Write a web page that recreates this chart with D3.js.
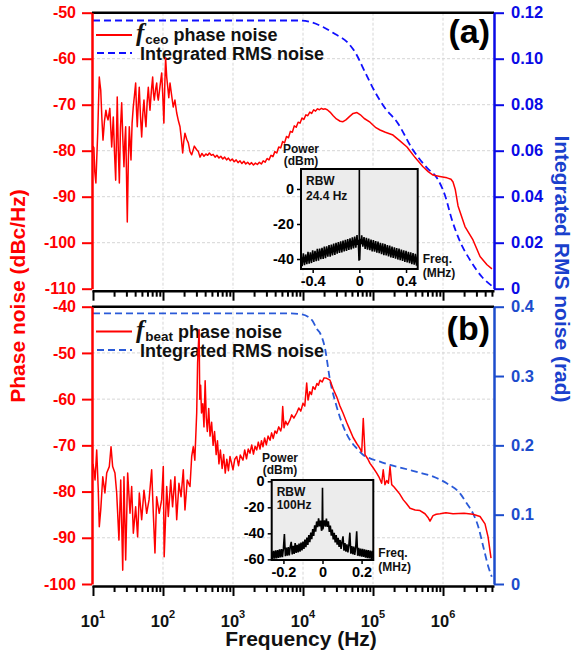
<!DOCTYPE html>
<html><head><meta charset="utf-8">
<script src="https://cdn.jsdelivr.net/npm/d3@7"></script>
<style>
html,body{margin:0;padding:0;background:#fff;}
svg{display:block;font-family:"Liberation Sans",Arial,sans-serif;font-weight:bold;}
</style></head><body>
<svg id="chart" width="573" height="656"></svg>
<script>
// ---------------- DATA ----------------
// Panel (a): f_ceo phase noise (dBc/Hz) vs Fourier frequency (Hz)
const freqA = [10.0,10.3,10.6,11.0,11.3,11.7,12.0,12.3,12.6,12.9,13.4,13.9,14.6,15.3,15.8,16.4,17.4,18.5,19.0,19.5,20.3,21.1,21.6,22.2,23.0,23.8,24.7,25.7,26.7,27.7,28.5,29.3,30.1,30.9,32.0,33.0,34.0,34.9,36.2,37.6,39.1,40.7,41.8,42.9,44.3,45.8,47.7,49.6,51.5,53.5,55.3,57.1,59.4,61.7,63.4,65.2,68.2,71.2,73.1,75.1,78.1,81.3,83.5,85.7,90.6,95.8,99.3,103,106,109,113,117,121,126,133,140,148,157,166,175,183,191,198,206,218,230,243,257,280,303,320,338,360,385,410,435,460,490,520,555,590,630,670,715,760,810,860,915,975,1040,1110,1180,1260,1340,1430,1520,1620,1730,1840,1960,2090,2230,2380,2540,2700,2880,3070,3270,3490,3720,3960,4220,4500,4800,5120,5450,5810,6200,6600,7040,7500,8000,8520,9080,9680,10300,11000,11700,12500,13300,14200,15100,16100,17200,18300,19500,20800,22200,24300,27000,30000,34000,37300,41000,46000,52000,59000,66000,75000,90600,110000,126000,150000,193000,240000,306000,400000,518000,620000,720000,900000,1140000,1300000,1390000,1500000,1640000,2060000,2680000,3380000,4250000,5000000];
const phaseNoiseA = [-79.0,-79.4,-84.5,-87.0,-82.0,-75.9,-69.5,-64.0,-65.5,-66.8,-73.0,-77.7,-73.5,-71.2,-72.5,-73.3,-70.8,-79.2,-76.0,-72.7,-80.5,-86.4,-78.0,-68.3,-80.0,-87.0,-75.0,-69.6,-77.5,-83.5,-78.0,-74.8,-85.0,-95.5,-82.0,-74.8,-78.5,-82.0,-74.0,-70.5,-68.0,-65.3,-71.0,-74.8,-70.0,-66.2,-72.5,-77.0,-72.0,-69.0,-72.5,-74.8,-69.5,-66.2,-68.8,-71.2,-67.0,-64.0,-67.5,-69.0,-66.8,-65.3,-68.0,-69.0,-66.0,-63.1,-68.0,-74.0,-66.0,-59.8,-64.0,-66.2,-68.5,-65.3,-68.0,-70.5,-69.0,-71.8,-73.5,-74.8,-77.5,-80.5,-78.0,-76.2,-77.5,-78.3,-80.2,-80.9,-79.0,-79.8,-80.2,-81.4,-80.6,-81.2,-80.7,-81.0,-80.5,-81.0,-80.8,-81.4,-81.0,-81.6,-81.2,-81.8,-81.4,-82.0,-81.6,-82.2,-81.8,-82.4,-82.0,-82.6,-82.2,-82.8,-82.3,-82.9,-82.5,-83.0,-82.6,-83.1,-82.7,-83.0,-82.5,-82.9,-82.2,-82.5,-81.7,-82.0,-81.0,-81.3,-80.2,-80.5,-79.2,-79.4,-78.0,-78.3,-76.9,-77.2,-75.8,-76.0,-74.6,-74.9,-73.8,-74.0,-72.9,-73.2,-72.2,-72.4,-71.6,-71.9,-71.1,-71.4,-70.9,-71.1,-70.8,-71.0,-70.9,-71.1,-71.6,-72.4,-73.1,-73.6,-73.7,-73.3,-72.6,-71.9,-71.7,-72.2,-73.0,-73.8,-75.0,-75.5,-76.0,-76.6,-77.8,-79.2,-81.5,-83.5,-84.6,-85.3,-85.6,-85.9,-86.2,-86.8,-88.5,-92.0,-96.5,-99.4,-103.0,-104.8,-105.7];
// Panel (a): integrated RMS phase noise (rad)
const rmsFreqA = [10,9060,12600,19300,28700,42500,55300,76900,107000,148000,220000,373000,591000,820000,1070000,1340000,1750000,2430000,3610000,5000000];
const rmsA = [0.1166,0.1166,0.1160,0.1138,0.1107,0.1073,0.1029,0.0942,0.0855,0.0786,0.0725,0.0603,0.0525,0.0481,0.0405,0.0300,0.0205,0.0125,0.0051,0.0012];

// Panel (b): f_beat phase noise
const freqB = [10.0,10.3,10.7,11.3,11.9,12.3,12.9,13.8,14.8,15.7,17.1,18.1,19.1,20.6,21.8,23.5,24.9,26.6,27.7,29.3,31.3,33.8,35.7,37.7,40.7,43.4,45.9,49.6,53.5,58.5,63.2,68.9,72.7,76.8,81.1,88.3,95.6,101,104,113,119,129,137,148,157,169,181,195,206,222,243,257,271,285,303,312,328,335,345,355,370,385,400,415,430,450,470,495,520,545,575,600,630,660,700,735,775,815,860,906,1000,1060,1129,1200,1270,1389,1470,1560,1650,1749,1850,1960,2070,2184,2300,2430,2550,2683,2830,2990,3170,3380,3560,3760,3980,4210,4500,4800,4965,5130,5355,5650,6000,6518,6900,7400,8128,8700,9300,10000,10600,11290,11790,12500,13200,13900,14800,15800,16600,17490,18800,20000,21830,24300,27000,30270,33500,37280,42000,46900,52000,58500,64000,69000,72600,76900,84000,90600,100000,113000,123000,133000,140000,148000,157000,166000,175000,185000,200000,218000,240000,271000,300000,338000,400000,469000,553000,610000,652000,720000,800000,906000,1100000,1390000,2000000,2680000,3380000,3980000,4400000,4850000];
const phaseNoiseB = [-74.0,-75.3,-77.5,-71.0,-79.7,-87.6,-84.0,-76.8,-80.3,-76.0,-74.6,-70.3,-74.6,-76.0,-80.3,-90.5,-77.5,-97.0,-76.8,-94.8,-76.0,-84.7,-78.9,-89.0,-83.3,-89.8,-80.3,-86.1,-79.7,-84.7,-81.8,-75.3,-84.7,-93.3,-81.1,-84.7,-81.8,-74.6,-94.1,-78.9,-85.4,-77.5,-83.3,-76.8,-86.1,-78.2,-81.1,-75.3,-84.0,-77.5,-78.9,-72.4,-70.3,-73.2,-63.0,-52.2,-45.0,-60.0,-57.0,-63.0,-61.0,-66.0,-56.0,-64.0,-67.0,-62.0,-68.0,-65.0,-70.0,-67.0,-72.0,-69.0,-74.0,-71.0,-75.0,-72.0,-76.0,-73.0,-75.5,-72.4,-75.3,-73.0,-72.4,-74.4,-72.1,-73.2,-71.0,-72.9,-70.8,-71.7,-69.9,-71.9,-70.2,-71.0,-69.3,-70.8,-69.0,-70.3,-68.4,-69.9,-68.0,-68.9,-67.3,-68.5,-66.9,-67.4,-66.0,-66.9,-66.0,-61.6,-66.2,-64.8,-65.6,-64.5,-63.4,-64.1,-63.0,-61.9,-62.6,-60.9,-61.5,-56.5,-60.2,-58.4,-59.0,-57.3,-57.9,-56.6,-57.0,-55.9,-56.3,-55.4,-55.5,-55.9,-57.8,-59.5,-61.4,-63.0,-65.0,-66.7,-68.3,-69.6,-70.5,-71.4,-64.2,-72.0,-72.9,-73.9,-74.8,-76.0,-77.0,-78.2,-75.3,-78.5,-77.6,-78.2,-74.6,-78.5,-79.0,-79.7,-80.5,-81.8,-82.6,-83.6,-84.0,-84.1,-84.8,-85.6,-86.4,-85.2,-84.9,-84.8,-84.6,-84.8,-84.7,-84.9,-85.4,-87.0,-89.8,-94.4];
const rmsFreqB = [10,6000,9000,11790,14000,15700,17490,20600,24300,30270,37700,46900,58500,72600,90600,125900,174900,270800,338000,469000,726000,1129000,1749000,2180000,2680000,3190000,3760000,4440000,4970000];
const rmsB = [0.3905,0.3905,0.3895,0.3856,0.3780,0.3680,0.3621,0.3400,0.2943,0.2558,0.2269,0.2077,0.1957,0.1861,0.1813,0.1764,0.1717,0.1669,0.1644,0.1606,0.1548,0.1453,0.1308,0.1164,0.1020,0.0827,0.0538,0.0250,0.0105];

// Inset (a): RF spectrum, RBW 24.4 Hz
const insetFreqA = [-0.50,-0.49,-0.48,-0.47,-0.46,-0.45,-0.44,-0.43,-0.42,-0.41,-0.40,-0.39,-0.38,-0.37,-0.36,-0.35,-0.34,-0.33,-0.32,-0.31,-0.30,-0.29,-0.28,-0.27,-0.26,-0.25,-0.24,-0.23,-0.22,-0.21,-0.20,-0.19,-0.18,-0.17,-0.16,-0.15,-0.14,-0.13,-0.12,-0.11,-0.10,-0.09,-0.08,-0.07,-0.06,-0.05,-0.04,-0.03,-0.02,-0.015,-0.01,-0.006,-0.003,-0.001,0,0.001,0.003,0.006,0.01,0.015,0.02,0.03,0.04,0.05,0.06,0.07,0.08,0.09,0.10,0.11,0.12,0.13,0.14,0.15,0.16,0.17,0.18,0.19,0.20,0.21,0.22,0.23,0.24,0.25,0.26,0.27,0.28,0.29,0.30,0.31,0.32,0.33,0.34,0.35,0.36,0.37,0.38,0.39,0.40,0.41,0.42,0.43,0.44,0.45,0.46,0.47,0.48,0.49,0.50];
const insetPowerA = [-37.2,-44.1,-36.8,-43.5,-37.4,-43.0,-35.9,-42.6,-36.2,-42.3,-35.0,-41.7,-35.3,-41.2,-34.2,-40.9,-34.0,-40.1,-33.6,-39.9,-32.9,-39.5,-32.8,-38.7,-32.0,-38.6,-31.8,-37.9,-31.2,-37.6,-30.8,-37.0,-30.4,-36.5,-29.9,-36.3,-29.5,-35.7,-29.0,-35.4,-28.6,-34.8,-28.2,-34.5,-27.6,-34.0,-27.2,-33.5,-26.3,-32.0,-29.0,-35.0,-41.0,-37.0,10.8,-37.5,-40.5,-34.5,-28.5,-31.5,-26.5,-33.0,-27.5,-34.2,-27.9,-34.6,-28.4,-35.0,-28.9,-35.6,-29.2,-35.8,-29.8,-36.4,-30.1,-36.7,-30.7,-37.2,-31.0,-37.8,-31.4,-38.0,-32.1,-38.5,-32.3,-39.1,-32.9,-39.4,-33.3,-39.8,-33.8,-40.3,-34.0,-40.7,-34.6,-41.1,-35.0,-41.6,-35.3,-42.0,-35.9,-42.4,-36.2,-42.9,-36.6,-43.2,-37.1,-43.8,-37.4];
// Inset (b): RF spectrum, RBW 100 Hz
const insetFreqB = [-0.260,-0.255,-0.250,-0.245,-0.240,-0.235,-0.230,-0.225,-0.220,-0.215,-0.210,-0.205,-0.200,-0.195,-0.190,-0.185,-0.180,-0.175,-0.170,-0.165,-0.160,-0.155,-0.150,-0.145,-0.140,-0.135,-0.130,-0.125,-0.120,-0.115,-0.110,-0.105,-0.100,-0.095,-0.090,-0.085,-0.080,-0.075,-0.070,-0.065,-0.060,-0.055,-0.050,-0.045,-0.040,-0.035,-0.030,-0.025,-0.020,-0.015,-0.010,-0.005,-0.002,0,0.002,0.005,0.010,0.015,0.020,0.025,0.030,0.035,0.040,0.045,0.050,0.055,0.060,0.065,0.070,0.075,0.080,0.085,0.090,0.095,0.100,0.105,0.110,0.115,0.120,0.125,0.130,0.135,0.140,0.145,0.150,0.155,0.160,0.165,0.170,0.175,0.180,0.185,0.190,0.195,0.200,0.205,0.210,0.215,0.220,0.225,0.230,0.235,0.240,0.245,0.250,0.255,0.260];
const insetPowerB = [-53.9,-59.7,-53.4,-59.5,-53.0,-59.2,-52.8,-58.9,-52.4,-58.6,-52.1,-58.3,-51.6,-40.5,-57.6,-51.0,-57.2,-50.6,-56.9,-50.3,-46.5,-56.2,-49.7,-55.8,-47.5,-55.1,-48.8,-54.6,-47.9,-54.0,-47.1,-53.2,-46.4,-52.0,-44.9,-50.6,-43.2,-48.9,-41.3,-46.8,-39.4,-44.5,-36.8,-42.0,-33.8,-38.7,-30.9,-35.3,-28.4,-34.6,-30.2,-38.0,-36.5,-5.0,-37.0,-34.5,-30.0,-34.8,-28.6,-35.0,-30.8,-38.9,-34.0,-41.8,-37.1,-44.6,-39.6,-46.9,-41.4,-48.7,-43.5,-50.4,-45.1,-51.9,-46.6,-42.3,-53.4,-47.5,-54.1,-48.5,-54.7,-49.0,-39.5,-55.6,-49.9,-56.1,-50.2,-56.6,-50.7,-38.5,-57.3,-51.1,-57.5,-51.7,-58.0,-52.0,-58.2,-52.3,-58.7,-52.6,-59.0,-52.9,-59.3,-53.2,-59.6,-53.5,-59.8];

// Tick values / labels
const yTicksA = [-110,-100,-90,-80,-70,-60,-50];
const rTicksA = [0,0.02,0.04,0.06,0.08,0.10,0.12];
const yTicksB = [-100,-90,-80,-70,-60,-50,-40];
const rTicksB = [0,0.1,0.2,0.3,0.4];
const decadeExps = [1,2,3,4,5,6];
const insetXTicksA = [-0.4,0,0.4];
const insetYTicksA = [-40,-20,0];
const insetXTicksB = [-0.2,0,0.2];
const insetYTicksB = [-60,-40,-20,0];

// ---------------- LAYOUT ----------------
const RED = "#ff0000";
const plotLeft = 92, plotRight = 494;
const svg = d3.select("#chart");
const x = d3.scaleLog().domain([9.68, 5.35e6]).range([plotLeft, plotRight]);
const majors = decadeExps.map(e => Math.pow(10, e));
const minors = [];
decadeExps.forEach(e => { for (let m = 2; m <= 9; m++) { const v = m * Math.pow(10, e); if (v <= 5.35e6) minors.push(v); } });

function zip(a, b) { return a.map((d, i) => [d, b[i]]); }

function drawPanel(cfg) {
  const g = svg.append("g");
  const y = d3.scaleLinear().domain(cfg.yDomain).range([cfg.bottom, cfg.top]);
  const r = d3.scaleLinear().domain(cfg.rDomain).range([cfg.bottom, cfg.top]);

  // grid
  const grid = g.append("g").attr("stroke", "#d6d6d6").attr("stroke-width", 1).attr("stroke-dasharray", "3,2");
  majors.filter(v => v > 10).forEach(v => grid.append("line").attr("x1", x(v)).attr("x2", x(v)).attr("y1", cfg.top).attr("y2", cfg.bottom));
  cfg.yTicks.slice(1, -1).forEach(v => grid.append("line").attr("x1", plotLeft).attr("x2", plotRight).attr("y1", y(v)).attr("y2", y(v)));

  // legend
  const lg = g.append("g");
  lg.append("line").attr("x1", 96).attr("x2", 132).attr("y1", cfg.legY1).attr("y2", cfg.legY1).attr("stroke", RED).attr("stroke-width", 2);
  const t1 = lg.append("text").attr("x", 136).attr("y", cfg.legY1 + 6).attr("font-size", 18).attr("fill", "#111");
  t1.append("tspan").attr("font-family", "'Liberation Serif','DejaVu Serif',serif").attr("font-style", "italic").attr("font-size", 25).text("f");
  t1.append("tspan").attr("font-size", 13.5).attr("dy", 3).attr("dx", 1).text(cfg.sub);
  t1.append("tspan").attr("dy", -3).attr("dx", 5).text("phase noise");
  lg.append("line").attr("x1", 97).attr("x2", 132).attr("y1", cfg.legY2).attr("y2", cfg.legY2).attr("stroke", cfg.dashColor).attr("stroke-width", 2).attr("stroke-dasharray", "7,4");
  lg.append("text").attr("x", 140).attr("y", cfg.legY2 + 7).attr("font-size", 18).attr("fill", "#111").text("Integrated RMS noise");

  // data
  g.append("path").datum(zip(cfg.rmsF, cfg.rms)).attr("fill", "none").attr("stroke", cfg.dashColor).attr("stroke-width", 1.8).attr("stroke-dasharray", "7,4")
    .attr("d", d3.line().x(d => x(d[0])).y(d => r(d[1])).curve(d3.curveMonotoneX));
  g.append("path").datum(zip(cfg.pnF, cfg.pn)).attr("fill", "none").attr("stroke", RED).attr("stroke-width", 1.5).attr("stroke-linejoin", "round")
    .attr("d", d3.line().x(d => x(d[0])).y(d => y(d[1])));

  // top border
  g.append("line").attr("x1", plotLeft).attr("x2", plotRight).attr("y1", cfg.top).attr("y2", cfg.top).attr("stroke", "#000").attr("stroke-width", 2.5);

  // bottom axis (major + minor ticks)
  const bMaj = g.append("g").attr("transform", `translate(0,${cfg.bottom + 2})`)
    .call(d3.axisBottom(x).tickValues(majors).tickSize(10).tickSizeOuter(0).tickFormat(""));
  bMaj.select(".domain").attr("stroke", "#000").attr("stroke-width", 2.5);
  bMaj.selectAll(".tick line").attr("stroke", "#000").attr("stroke-width", 2);
  const bMin = g.append("g").attr("transform", `translate(0,${cfg.bottom + 2})`)
    .call(d3.axisBottom(x).tickValues(minors).tickSize(6).tickSizeOuter(0).tickFormat(""));
  bMin.select(".domain").remove();
  bMin.selectAll(".tick line").attr("stroke", "#000").attr("stroke-width", 2);

  // left axis
  const la = g.append("g").attr("transform", `translate(${plotLeft},0)`)
    .call(d3.axisLeft(y).tickValues(cfg.yTicks).tickSize(10).tickSizeOuter(0).tickPadding(6).tickFormat(d => String(d)));
  la.select(".domain").attr("stroke", RED).attr("stroke-width", 2.5);
  la.selectAll(".tick line").attr("stroke", RED).attr("stroke-width", 2);
  la.selectAll(".tick text").attr("fill", RED).attr("font-size", 16).attr("font-family", "'Liberation Sans',Arial,sans-serif").attr("font-weight", "bold");

  // right axis
  const ra = g.append("g").attr("transform", `translate(${plotRight},0)`)
    .call(d3.axisRight(r).tickValues(cfg.rTicks).tickSize(10).tickSizeOuter(0).tickPadding(7).tickFormat(cfg.rFmt));
  ra.select(".domain").attr("stroke", cfg.axisBlue).attr("stroke-width", 2.5);
  ra.selectAll(".tick line").attr("stroke", cfg.axisBlue).attr("stroke-width", 2);
  ra.selectAll(".tick text").attr("fill", cfg.axisBlue).attr("font-size", 16.5).attr("font-family", "'Liberation Sans',Arial,sans-serif").attr("font-weight", "bold");

  // panel label
  g.append("text").attr("x", 490).attr("y", cfg.labelY).attr("text-anchor", "end").attr("font-size", 34).attr("fill", "#000").text(cfg.label);
  return g;
}

function drawInset(cfg) {
  const g = svg.append("g");
  const ix = d3.scaleLinear().domain(cfg.xDomain).range([cfg.x0, cfg.x1]);
  const iy = d3.scaleLinear().domain(cfg.yDomain).range([cfg.y1, cfg.y0]);
  g.append("rect").attr("x", cfg.x0).attr("y", cfg.y0).attr("width", cfg.x1 - cfg.x0).attr("height", cfg.y1 - cfg.y0).attr("fill", "#ececec");
  const cid = "clip" + cfg.id;
  svg.append("defs").append("clipPath").attr("id", cid).append("rect").attr("x", cfg.x0).attr("y", cfg.y0).attr("width", cfg.x1 - cfg.x0).attr("height", cfg.y1 - cfg.y0);
  g.append("path").datum(zip(cfg.f, cfg.p)).attr("clip-path", `url(#${cid})`).attr("fill", "none").attr("stroke", "#000").attr("stroke-width", 1.6)
    .attr("d", d3.line().x(d => ix(d[0])).y(d => iy(d[1])));
  g.append("rect").attr("x", cfg.x0).attr("y", cfg.y0).attr("width", cfg.x1 - cfg.x0).attr("height", cfg.y1 - cfg.y0).attr("fill", "none").attr("stroke", "#000").attr("stroke-width", 2);
  const ax = g.append("g").attr("transform", `translate(0,${cfg.y1})`)
    .call(d3.axisBottom(ix).tickValues(cfg.xTicks).tickSize(4).tickSizeOuter(0).tickPadding(3).tickFormat(d => d === 0 ? "0" : d.toFixed(1)));
  ax.select(".domain").remove();
  ax.selectAll(".tick line").attr("stroke", "#000").attr("stroke-width", 1.5);
  ax.selectAll(".tick text").attr("fill", "#000").attr("font-size", 14.5).attr("font-family", "'Liberation Sans',Arial,sans-serif").attr("font-weight", "bold");
  const ay = g.append("g").attr("transform", `translate(${cfg.x0},0)`)
    .call(d3.axisLeft(iy).tickValues(cfg.yTicks).tickSize(4).tickSizeOuter(0).tickPadding(3).tickFormat(d => String(d)));
  ay.select(".domain").remove();
  ay.selectAll(".tick line").attr("stroke", "#000").attr("stroke-width", 1.5);
  ay.selectAll(".tick text").attr("fill", "#000").attr("font-size", 14.5).attr("font-family", "'Liberation Sans',Arial,sans-serif").attr("font-weight", "bold");
  const txt = (s, xx, yy, anchor) => g.append("text").attr("x", xx).attr("y", yy).attr("font-size", 12).attr("fill", "#111").attr("text-anchor", anchor || "start").text(s);
  txt("Power", cfg.powX, cfg.powY, "middle");
  txt("(dBm)", cfg.powX, cfg.powY + 11.5, "middle");
  txt("RBW", cfg.x0 + 5, cfg.rbwY);
  txt(cfg.rbw, cfg.x0 + 5, cfg.rbwY + cfg.rbwGap);
  txt("Freq.", cfg.x1 + 5, cfg.freqY);
  txt("(MHz)", cfg.x1 + 5, cfg.freqY + 14);
}

drawPanel({
  top: 12.7, bottom: 288.7, yDomain: [-110, -50], yTicks: yTicksA, rDomain: [0, 0.12], rTicks: rTicksA,
  rFmt: d => d === 0 ? "0" : d.toFixed(2), pnF: freqA, pn: phaseNoiseA, rmsF: rmsFreqA, rms: rmsA,
  dashColor: "#1010ff", axisBlue: "#0a0ae6", sub: "ceo", legY1: 35, legY2: 53, label: "(a)", labelY: 43
});
drawPanel({
  top: 306.7, bottom: 584, yDomain: [-100, -40], yTicks: yTicksB, rDomain: [0, 0.4], rTicks: rTicksB,
  rFmt: d => d === 0 ? "0" : d.toFixed(1), pnF: freqB, pn: phaseNoiseB, rmsF: rmsFreqB, rms: rmsB,
  dashColor: "#2a5ad8", axisBlue: "#1c4ccc", sub: "beat", legY1: 331.5, legY2: 350, label: "(b)", labelY: 340
});

drawInset({ id: "a", x0: 301, x1: 417.7, y0: 169, y1: 269, xDomain: [-0.5, 0.5], yDomain: [-45.7, 11.4],
  f: insetFreqA, p: insetPowerA, xTicks: insetXTicksA, yTicks: insetYTicksA,
  powX: 301, powY: 153, rbw: "24.4 Hz", rbwY: 185, rbwGap: 15, freqY: 263 });
drawInset({ id: "b", x0: 271.7, x1: 373.3, y0: 480, y1: 560, xDomain: [-0.26, 0.26], yDomain: [-60.5, 1],
  f: insetFreqB, p: insetPowerB, xTicks: insetXTicksB, yTicks: insetYTicksB,
  powX: 280, powY: 462, rbw: "100Hz", rbwY: 495.5, rbwGap: 13.5, freqY: 557 });

// x tick labels (bottom panel)
decadeExps.forEach(e => {
  const t = svg.append("text").attr("x", x(Math.pow(10, e))).attr("y", 627).attr("text-anchor", "middle").attr("font-size", 16.5).attr("fill", "#111");
  t.append("tspan").text("10");
  t.append("tspan").attr("font-size", 11).attr("dy", -9).text(String(e));
});

// axis titles
svg.append("text").attr("x", 301).attr("y", 646).attr("text-anchor", "middle").attr("font-size", 21).attr("fill", "#111").text("Frequency (Hz)");
svg.append("text").attr("transform", "translate(25,296) rotate(-90)").attr("text-anchor", "middle").attr("font-size", 21).attr("fill", RED).text("Phase noise (dBc/Hz)");
svg.append("text").attr("transform", "translate(555,269) rotate(90)").attr("text-anchor", "middle").attr("font-size", 21).attr("fill", "#1a40cc").text("Integrated RMS noise (rad)");
</script>
</body></html>
